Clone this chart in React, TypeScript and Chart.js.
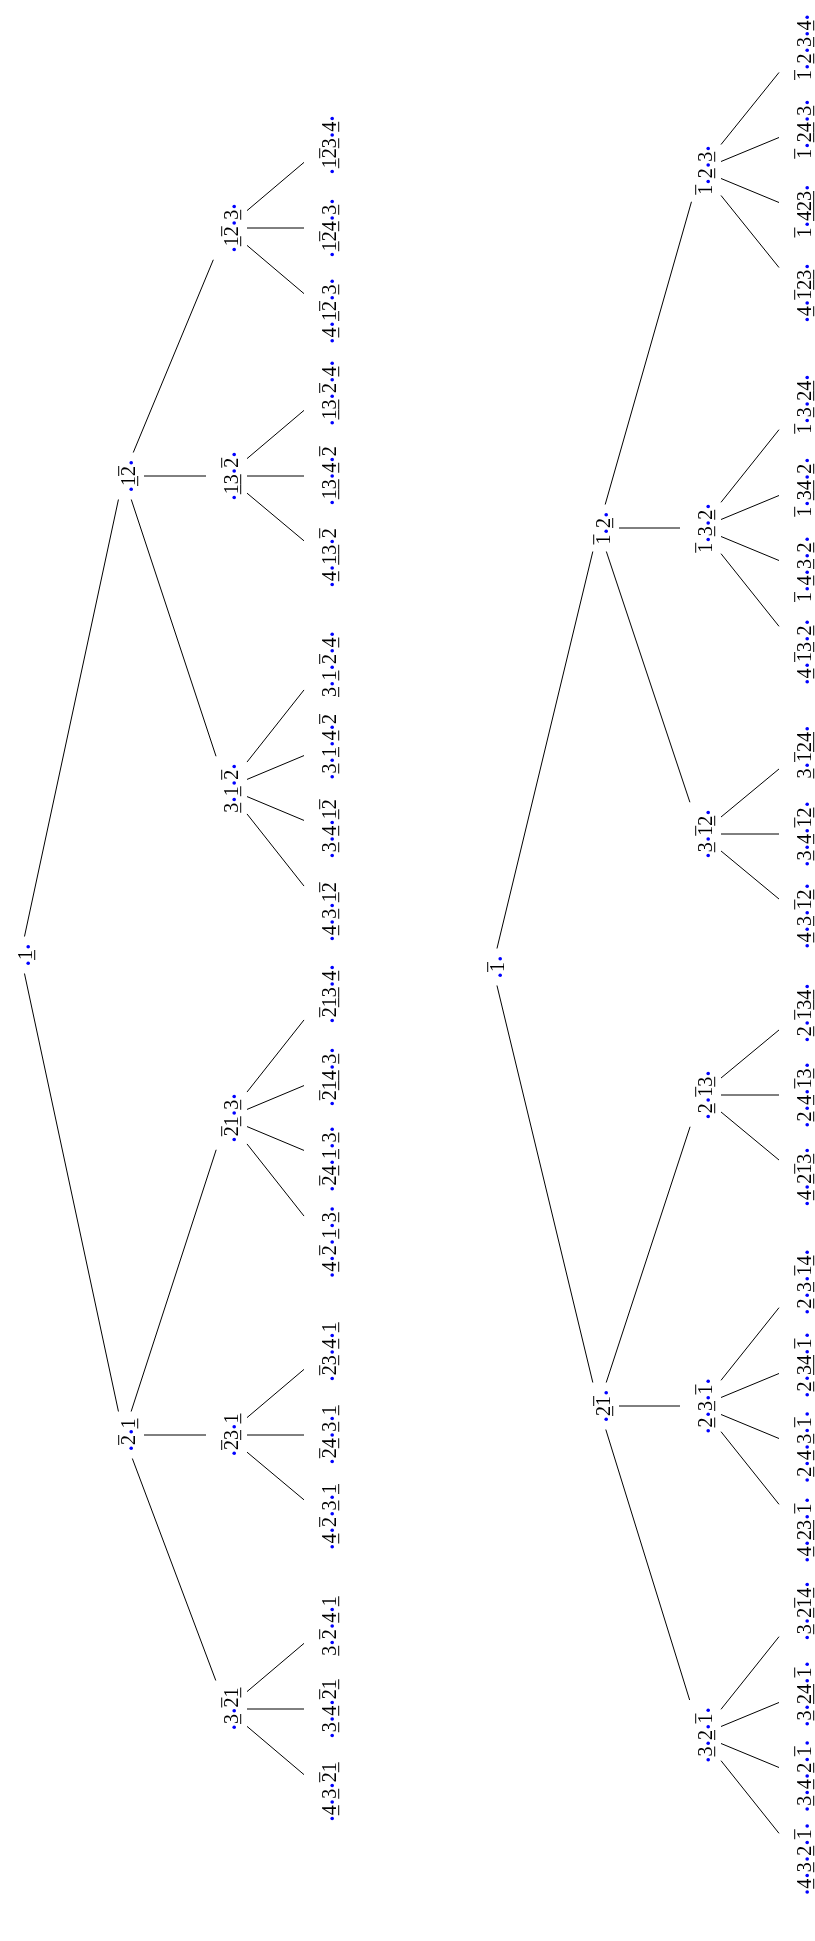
import React, { useEffect, useRef } from "react";
import { Chart, registerables } from "chart.js";

Chart.register(...registerables);

// Label notation: "." = blue dot, "u" = next digit underlined, "o" = next digit overlined
// ---------- Left tree ----------
const leftRootLabel = ".u1.";
const leftRootY = 955;
const leftL1Labels = [".u1o2.", ".o2.u1"];
const leftL1Y = [476, 1435];
const leftL2Labels = [".u1o2.u3.", ".u1u3.o2.", "u3.u1.o2.", ".o2u1.u3.", ".o2u3.u1", ".u3.o2u1"];
const leftL2Y = [228, 476, 788, 1118, 1435, 1709];
const leftL2Parent = [0, 0, 0, 1, 1, 1];
const leftLeafLabels = [
  ".u1o2u3.u4.", ".u1o2u4.u3.", ".u4.u1o2.u3.",
  ".u1u3.o2.u4.", ".u1u3.u4.o2", ".u4.u1u3.o2",
  "u3.u1.o2.u4.", ".u3.u1.u4.o2", ".u3.u4.u1o2", ".u4.u3.u1o2",
  ".o2u1u3.u4.", ".o2u1u4.u3.", ".o2u4.u1.u3.", ".u4.o2.u1.u3.",
  ".o2u3.u4.u1", ".o2u4.u3.u1", ".u4.o2.u3.u1",
  "u3.o2.u4.u1", ".u3.u4.o2u1", ".u4.u3.o2u1",
];
const leftLeafY = [145, 228, 311, 393, 476, 558, 664, 747, 829, 912, 994, 1077, 1159, 1242, 1352, 1435, 1517, 1626, 1709, 1792];
const leftLeafParent = [0, 0, 0, 1, 1, 1, 2, 2, 2, 2, 3, 3, 3, 3, 4, 4, 4, 5, 5, 5];

// ---------- Right tree ----------
const rightRootLabel = ".o1.";
const rightRootY = 967;
const rightL1Labels = ["o1.u2.", ".u2o1."];
const rightL1Y = [528, 1406];
const rightL2Labels = ["o1.u2.u3.", "o1.u3.u2.", ".u3.o1u2.", ".u2.o1u3.", ".u2.u3.o1.", ".u3.u2.o1."];
const rightL2Y = [170, 528, 834, 1095, 1406, 1735];
const rightL2Parent = [0, 0, 0, 1, 1, 1];
const rightLeafLabels = [
  "o1.u2.u3.u4.", "o1.u2u4.u3.", "o1.u4u2u3.", ".u4.o1u2u3.",
  "o1.u3.u2u4.", "o1.u3u4.u2.", "o1.u4.u3.u2.", ".u4.o1u3.u2.",
  "u3.o1u2u4.", ".u3.u4.o1u2.", ".u4.u3.o1u2.",
  ".u2.o1u3u4.", ".u2.u4.o1u3.", ".u4.u2o1u3.",
  ".u2.u3.o1u4.", ".u2.u3u4.o1.", ".u2.u4.u3.o1.", ".u4.u2u3.o1.",
  ".u3.u2o1u4.", ".u3.u2u4.o1.", ".u3.u4.u2.o1.", ".u4.u3.u2.o1.",
];
const rightLeafY = [47, 129, 211, 293, 404, 487, 569, 652, 752, 834, 916, 1013, 1095, 1177, 1282, 1365, 1447, 1530, 1611, 1694, 1776, 1859];
const rightLeafParent = [0, 0, 0, 0, 1, 1, 1, 1, 2, 2, 2, 3, 3, 3, 4, 4, 4, 4, 5, 5, 5, 5];

// level columns (node box centres)
const leftLevelX = [20.5, 123.5, 226.5, 324.5];
const rightLevelX = [492.5, 598.5, 700.5, 799.5];

const W = 815;
const H = 1941;
const FONT = '20px "Liberation Serif", "DejaVu Serif", serif';
const BLUE = "#0000ff";
const DOT_ADV = 6.5;
const DOT_R = 1.8;
const GLYPH_DX = 4.5;
const HALF_W = 20.5;
const PAD_Y = 7;
const BASE = 6.6;

type Tok = { t: "dot" } | { t: "d"; c: string; m: string };

function parse(s: string): Tok[] {
  const toks: Tok[] = [];
  let mod = "";
  for (const ch of s) {
    if (ch === ".") toks.push({ t: "dot" });
    else if (ch === "u" || ch === "o") mod = ch;
    else {
      toks.push({ t: "d", c: ch, m: mod });
      mod = "";
    }
  }
  return toks;
}

function labelLength(ctx: CanvasRenderingContext2D, s: string): number {
  ctx.save();
  ctx.font = FONT;
  let len = 0;
  for (const tk of parse(s)) {
    if (tk.t === "dot") len += DOT_ADV;
    else len += ctx.measureText(tk.c).width;
  }
  ctx.restore();
  return len;
}

function drawLabel(ctx: CanvasRenderingContext2D, s: string, px: number, py: number) {
  const len = labelLength(ctx, s);
  ctx.save();
  ctx.translate(px + GLYPH_DX, py);
  ctx.rotate(-Math.PI / 2);
  ctx.font = FONT;
  ctx.textBaseline = "alphabetic";
  let x = -len / 2;
  for (const tk of parse(s)) {
    if (tk.t === "dot") {
      ctx.fillStyle = BLUE;
      ctx.beginPath();
      ctx.arc(x + DOT_ADV / 2, BASE - 3.4, DOT_R, 0, Math.PI * 2);
      ctx.fill();
      x += DOT_ADV;
    } else {
      const w = ctx.measureText(tk.c).width;
      ctx.fillStyle = "#000";
      ctx.fillText(tk.c, x, BASE);
      if (tk.m === "u") ctx.fillRect(x, BASE + 2.6, w, 1.0);
      if (tk.m === "o") ctx.fillRect(x, BASE - 16.4, w, 1.0);
      x += w;
    }
  }
  ctx.restore();
}

function buildLevel(labels: string[], ys: number[], x: number, parents: number[] | null, parentSet: number | null, name: string) {
  return {
    label: name,
    data: ys.map((y) => ({ x, y })),
    nodeLabels: labels,
    parents,
    parentSet,
    pointRadius: 0,
    pointHoverRadius: 0,
    showLine: false,
  } as any;
}

const treePlugin = {
  id: "treePlugin",
  afterDatasetsDraw(chart: any) {
    const ctx: CanvasRenderingContext2D = chart.ctx;
    const sets = chart.data.datasets;
    // edges
    ctx.save();
    ctx.strokeStyle = "#000";
    ctx.lineWidth = 1;
    sets.forEach((ds: any, di: number) => {
      if (ds.parentSet === null || ds.parentSet === undefined) return;
      const meta = chart.getDatasetMeta(di);
      const pds = sets[ds.parentSet];
      const pmeta = chart.getDatasetMeta(ds.parentSet);
      meta.data.forEach((el: any, i: number) => {
        const pi = ds.parents[i];
        const pel = pmeta.data[pi];
        const P = { x: pel.x, y: pel.y };
        const C = { x: el.x, y: el.y };
        const dx = C.x - P.x;
        const dy = C.y - P.y;
        const hyP = labelLength(ctx, pds.nodeLabels[pi]) / 2 + PAD_Y;
        const hyC = labelLength(ctx, ds.nodeLabels[i]) / 2 + PAD_Y;
        const tP = Math.min(Math.abs(dx) > 1e-6 ? HALF_W / Math.abs(dx) : Infinity, Math.abs(dy) > 1e-6 ? hyP / Math.abs(dy) : Infinity);
        const tC = Math.min(Math.abs(dx) > 1e-6 ? HALF_W / Math.abs(dx) : Infinity, Math.abs(dy) > 1e-6 ? hyC / Math.abs(dy) : Infinity);
        ctx.beginPath();
        ctx.moveTo(P.x + tP * dx, P.y + tP * dy);
        ctx.lineTo(C.x - tC * dx, C.y - tC * dy);
        ctx.stroke();
      });
    });
    ctx.restore();
    // labels
    sets.forEach((ds: any, di: number) => {
      const meta = chart.getDatasetMeta(di);
      meta.data.forEach((el: any, i: number) => {
        drawLabel(ctx, ds.nodeLabels[i], el.x, el.y);
      });
    });
  },
};

export default function App() {
  const ref = useRef<HTMLCanvasElement | null>(null);
  useEffect(() => {
    if (!ref.current) return;
    const datasets = [
      buildLevel([leftRootLabel], [leftRootY], leftLevelX[0], null, null, "L0"),
      buildLevel(leftL1Labels, leftL1Y, leftLevelX[1], [0, 0], 0, "L1"),
      buildLevel(leftL2Labels, leftL2Y, leftLevelX[2], leftL2Parent, 1, "L2"),
      buildLevel(leftLeafLabels, leftLeafY, leftLevelX[3], leftLeafParent, 2, "L3"),
      buildLevel([rightRootLabel], [rightRootY], rightLevelX[0], null, null, "R0"),
      buildLevel(rightL1Labels, rightL1Y, rightLevelX[1], [0, 0], 4, "R1"),
      buildLevel(rightL2Labels, rightL2Y, rightLevelX[2], rightL2Parent, 5, "R2"),
      buildLevel(rightLeafLabels, rightLeafY, rightLevelX[3], rightLeafParent, 6, "R3"),
    ];
    const chart = new Chart(ref.current, {
      type: "scatter",
      data: { datasets },
      options: {
        responsive: false,
        maintainAspectRatio: false,
        animation: false,
        devicePixelRatio: 1,
        layout: { padding: 0 },
        plugins: { legend: { display: false }, tooltip: { enabled: false } },
        events: [],
        scales: {
          x: { type: "linear", min: 0, max: W, display: false },
          y: { type: "linear", min: 0, max: H, reverse: true, display: false },
        },
      },
      plugins: [treePlugin],
    } as any);
    return () => chart.destroy();
  }, []);
  return (
    <div style={{ position: "absolute", left: 0, top: 0, width: W, height: H, background: "#fff" }}>
      <canvas ref={ref} width={W} height={H} style={{ display: "block" }} />
    </div>
  );
}
